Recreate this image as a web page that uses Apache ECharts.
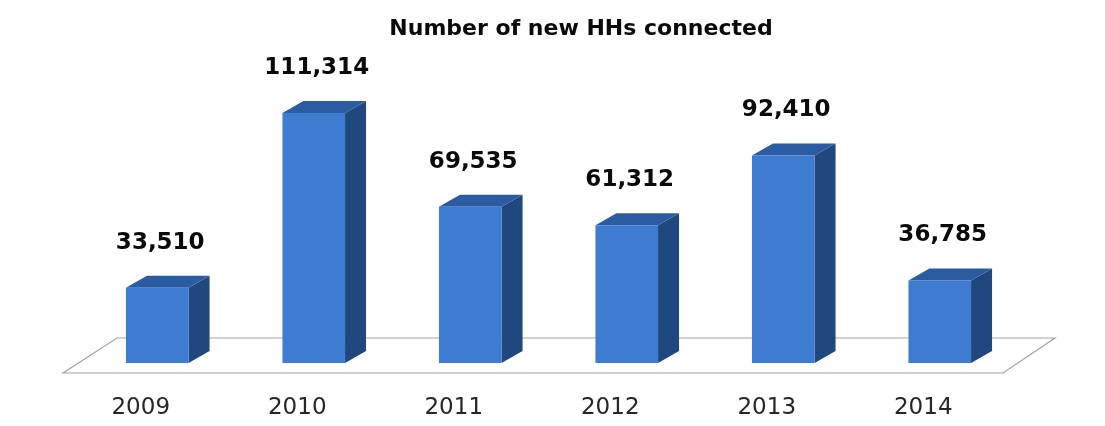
<!DOCTYPE html>
<html>
<head>
<meta charset="utf-8">
<script src="https://cdn.jsdelivr.net/npm/echarts@6/dist/echarts.min.js"></script>
<style>
  html, body { margin: 0; padding: 0; background: #ffffff; }
  #chart { width: 1105px; height: 426px; }
</style>
</head>
<body>
<div id="chart"></div>
<script>
// Households newly connected per year
const years = ['2009', '2010', '2011', '2012', '2013', '2014'];
const newConnections = [33510, 111314, 69535, 61312, 92410, 36785];

const FRONT = '#3e7cd1';
const TOP = '#2b5ba0';
const SIDE = '#20477e';
const DEPTH_X = 21;
const DEPTH_Y = 12;

const chart = echarts.init(document.getElementById('chart'), null, { renderer: 'canvas' });

function fmt(v) {
  return v.toLocaleString('en-US');
}

// Extruded column: front face, top cap and right side face
function renderBar(params, api) {
  const idx = api.value(0);
  const val = api.value(1);
  const top = api.coord([idx, val]);
  const base = api.coord([idx, 0]);
  const band = api.size([1, 0])[0];
  const w = band * 0.4;
  const x0 = top[0] - w / 2;
  const x1 = x0 + w;
  const yt = top[1];
  const yb = base[1];
  return {
    type: 'group',
    children: [
      {
        type: 'polygon',
        shape: { points: [[x1, yt], [x1 + DEPTH_X, yt - DEPTH_Y], [x1 + DEPTH_X, yb - DEPTH_Y], [x1, yb]] },
        style: { fill: SIDE }
      },
      {
        type: 'polygon',
        shape: { points: [[x0, yt], [x1, yt], [x1 + DEPTH_X, yt - DEPTH_Y], [x0 + DEPTH_X, yt - DEPTH_Y]] },
        style: { fill: TOP }
      },
      {
        type: 'rect',
        shape: { x: x0, y: yt, width: w, height: yb - yt },
        style: { fill: FRONT }
      },
      {
        type: 'text',
        style: {
          x: top[0] + 3,
          y: yt - 45,
          text: fmt(val),
          align: 'center',
          verticalAlign: 'middle',
          fill: '#0a0a0a',
          font: 'bold 23px "DejaVu Sans"'
        }
      }
    ]
  };
}

// Floor plane beneath the columns
function renderFloor(params, api) {
  const cs = params.coordSys;
  const zeroY = api.coord([0, 0])[1];
  const left = cs.x;
  const right = cs.x + cs.width;
  const frontY = zeroY + 10;
  const backY = zeroY - 25;
  return {
    type: 'polygon',
    shape: {
      points: [
        [left - 16, frontY],
        [right - 15, frontY],
        [right + 37, backY],
        [left + 38, backY]
      ]
    },
    style: { fill: '#ffffff', stroke: '#a3a3a3', lineWidth: 1.2 },
    z2: 0
  };
}

chart.setOption({
  backgroundColor: '#ffffff',
  animation: false,
  title: {
    text: 'Number of new HHs connected',
    left: 576,
    top: 13,
    textAlign: 'center',
    textStyle: {
      fontFamily: 'DejaVu Sans',
      fontWeight: 'bold',
      fontSize: 22,
      color: '#0a0a0a'
    }
  },
  grid: { left: 79, right: 87, top: 93.5, bottom: 63 },
  xAxis: {
    type: 'category',
    data: years,
    axisLine: { show: false },
    axisTick: { show: false },
    splitLine: { show: false },
    axisLabel: {
      margin: 34,
      padding: [0, 33, 0, 0],
      fontFamily: 'DejaVu Sans',
      fontSize: 23,
      color: '#262626'
    }
  },
  yAxis: {
    type: 'value',
    min: 0,
    max: 120000,
    show: false,
    splitLine: { show: false }
  },
  series: [
    {
      type: 'custom',
      renderItem: renderFloor,
      data: [[0, 0]],
      z: 1,
      silent: true
    },
    {
      type: 'custom',
      renderItem: renderBar,
      data: newConnections.map((v, i) => [i, v]),
      z: 2
    }
  ]
});
</script>
</body>
</html>
